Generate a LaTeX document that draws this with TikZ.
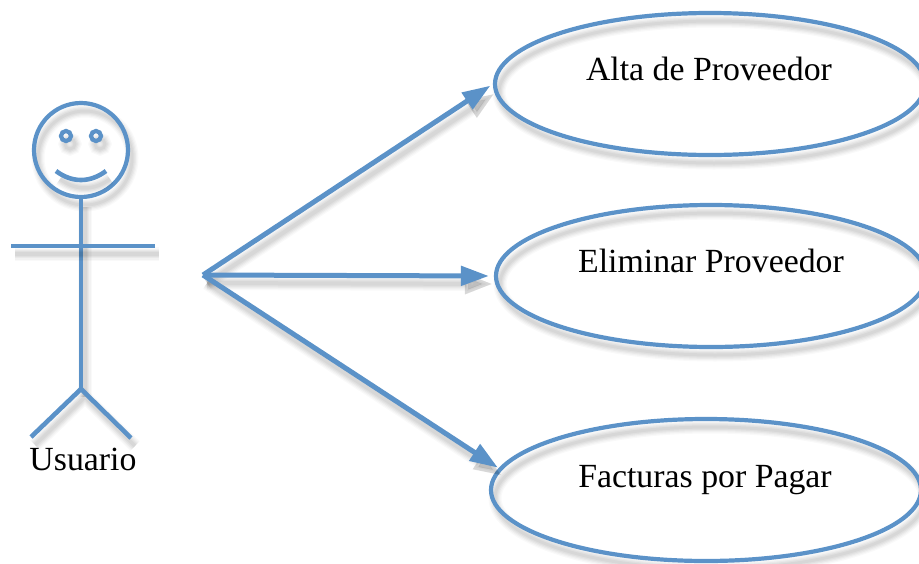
\documentclass[tikz,border=0pt]{standalone}
\usepackage{fontspec}
\setmainfont{Liberation Serif}
\usetikzlibrary{shapes.geometric,arrows.meta}
\definecolor{umlblue}{HTML}{5B92C8}
\tikzset{
  x=1pt,y=-1pt,
  softshadow/.style={
    preaction={draw=black,opacity=.022,line width=#1+10pt,transform canvas={shift={(4pt,-8pt)}}},
    preaction={draw=black,opacity=.028,line width=#1+7.5pt,transform canvas={shift={(4pt,-8pt)}}},
    preaction={draw=black,opacity=.034,line width=#1+5pt,transform canvas={shift={(4pt,-8pt)}}},
    preaction={draw=black,opacity=.04,line width=#1+2.5pt,transform canvas={shift={(4pt,-8pt)}}},
    preaction={draw=black,opacity=.04,line width=#1,transform canvas={shift={(4pt,-8pt)}}}
  },
  usecase/.style={ellipse,draw=umlblue,line width=4.2pt,minimum width=430pt,minimum height=142pt,inner sep=0pt,softshadow=3pt},
  actorline/.style={draw=umlblue,line width=4.6pt,softshadow=3.5pt},
  face/.style={circle,draw=umlblue,line width=4.2pt,inner sep=0pt,softshadow=3pt},
  link/.style={draw=umlblue,line width=5pt,-{Triangle[length=28pt,width=19pt,sep=0pt]},softshadow=4pt},
  caption/.style={font=\fontsize{33.8}{36}\selectfont,text=black,inner sep=0pt,anchor=base}
}
\begin{document}
\begin{tikzpicture}
\useasboundingbox (0,0) rectangle (919,563);
\node[usecase] (e1) at (710,84) {};
\node[usecase] (e2) at (711,276) {};
\node[usecase] (e3) at (706,490) {};
\node[caption] (t1) at (709,80) {Alta de Proveedor};
\node[caption] (t2) at (711,272) {Eliminar Proveedor};
\node[caption] (t3) at (705,487) {Facturas por Pagar};
\node[face,minimum size=94pt] (head) at (81,150) {};
\node[face,minimum size=10pt] (eyeL) at (66,136) {};
\node[face,minimum size=10pt] (eyeR) at (96,136) {};
\coordinate (smileL) at (56,171);
\coordinate (smileR) at (106,171);
\coordinate (armL) at (11,246);
\coordinate (armR) at (155,246);
\coordinate (hip) at (81,389);
\coordinate (footL) at (31,437);
\coordinate (footR) at (131,438);
\coordinate (hub) at (203,275);
\path[actorline] (smileL) .. controls (72,183) and (90,183) .. (smileR);
\path[actorline] (head.south) -- (hip);
\path[actorline] (armL) -- (armR);
\path[actorline] (footL) -- (hip) -- (footR);
\node[caption] (actor) at (83,470) {Usuario};
\path[link,shorten >=3pt] (hub) -- (e1.west);
\path[link,shorten >=5pt] (hub) -- (e2.west);
\path[link,shorten >=1pt] (hub) -- (e3.174);
\end{tikzpicture}
\end{document}
